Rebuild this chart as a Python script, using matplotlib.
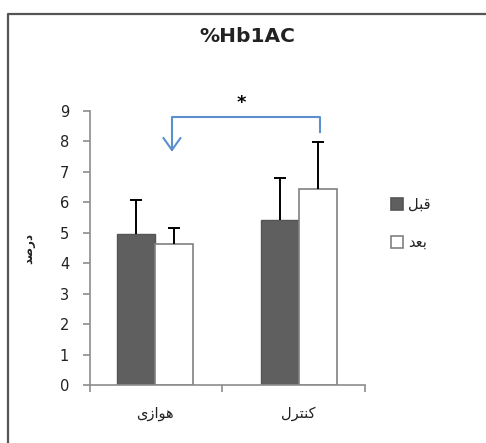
import matplotlib
matplotlib.use("Agg")
import matplotlib.pyplot as plt
from matplotlib.patches import Rectangle
from matplotlib.lines import Line2D

# ---- data ----
categories = ["\uFBFC\uFEAF\uFE8D\uFEEE\uFEEB", "\uFEDD\uFEAE\uFE98\uFEE8\uFB90"]  # هوازی, کنترل (visual order, shaped)
series_names = ["\uFEDE\uFE92\uFED7", "\uFEAA\uFECC\uFE91"]  # قبل, بعد
before_vals = [4.97, 5.43]
after_vals = [4.64, 6.45]
before_err = [1.11, 1.38]
after_err = [0.52, 1.54]
yticks = [0, 1, 2, 3, 4, 5, 6, 7, 8, 9]
title = "%Hb1AC"
ylabel = "\uFEAA\uFEBB\uFEAD\uFEA9"  # درصد

plt.rcParams['font.family'] = ['DejaVu Sans']

W, H = 486, 443
fig = plt.figure(figsize=(W / 100, H / 100), dpi=100)
ax = fig.add_axes([90 / W, 1 - 385 / H, (365 - 90) / W, (385 - 111) / H])

axis_gray = "#8c8c8c"
dark = "#5f5f5f"
bw = 0.265
x = [0, 1]
xb = [v - bw / 2 for v in x]
xa = [v + bw / 2 for v in x]

ax.bar(xb, before_vals, width=bw, color=dark, edgecolor="#555555", linewidth=1.0, zorder=2)
ax.bar(xa, after_vals, width=bw, color="white", edgecolor="#808080", linewidth=1.2, zorder=2)

def upper_err(xs, vals, errs):
    tops = [v + e for v, e in zip(vals, errs)]
    ax.vlines(xs, vals, tops, colors="black", lw=1.4, zorder=3)
    ax.plot(xs, tops, ls="none", marker="_", markersize=8.6, mew=1.4, color="black", zorder=3)

upper_err(xb, before_vals, before_err)
upper_err(xa, after_vals, after_err)

ax.set_xlim(-0.453, 1.463)
ax.set_ylim(0, 9)
ax.set_yticks(yticks)
ax.set_yticklabels([str(t) for t in yticks], fontsize=10.5)
ax.set_xticks([-0.453, 0.467, 1.463])
ax.set_xticklabels([])
for xi, lab in zip(x, categories):
    ax.text(xi, -0.95, lab, ha="center", va="center", fontsize=10.5, color="#222222")

for s in ["top", "right"]:
    ax.spines[s].set_visible(False)
for s in ["left", "bottom"]:
    ax.spines[s].set_color(axis_gray)
    ax.spines[s].set_linewidth(1.2)
ax.tick_params(axis="both", color=axis_gray, length=5, width=1.2, direction="out")
ax.tick_params(axis="y", pad=10, labelcolor="#222222")

# significance bracket
blue = "#5b8fd0"
tip_x, tip_y = 0.118, 7.72
top_y = 8.80
right_x, right_y = 1.15, 8.31
ax.plot([tip_x, tip_x, right_x, right_x], [tip_y, top_y, top_y, right_y], color=blue,
        lw=1.5, clip_on=False, zorder=4)
ax.plot([tip_x - 0.059, tip_x, tip_x + 0.059], [8.11, tip_y, 8.11], color=blue,
        lw=1.5, clip_on=False, zorder=4)
ax.text(0.60, 9.25, "*", ha="center", va="center", fontsize=13, fontweight="bold", clip_on=False)

# title and y label
fig.text(247 / W, 1 - 36 / H, title, ha="center", va="center", fontsize=14.5, fontweight="bold",
         color="#222222")
fig.text(29 / W, 1 - 248 / H, ylabel, ha="center", va="center", rotation=90, fontsize=8.5,
         fontweight="bold", color="#222222")

# legend
for i, (name, fc, ec) in enumerate(zip(series_names, [dark, "white"], ["#555555", "#808080"])):
    yc = [204, 242][i]
    fig.add_artist(Rectangle((391 / W, 1 - (yc + 6) / H), 12 / W, 12 / H,
                             transform=fig.transFigure, facecolor=fc, edgecolor=ec, lw=1.2))
    fig.text(408 / W, 1 - yc / H, name, ha="left", va="center", fontsize=10.5, color="#222222")

# outer border (partial, as cropped)
fig.add_artist(Line2D([8 / W, 8 / W, 1.0], [0, 1 - 14 / H, 1 - 14 / H],
                      transform=fig.transFigure, color="#555555", lw=1.6))

fig.savefig("out.png", dpi=100)
